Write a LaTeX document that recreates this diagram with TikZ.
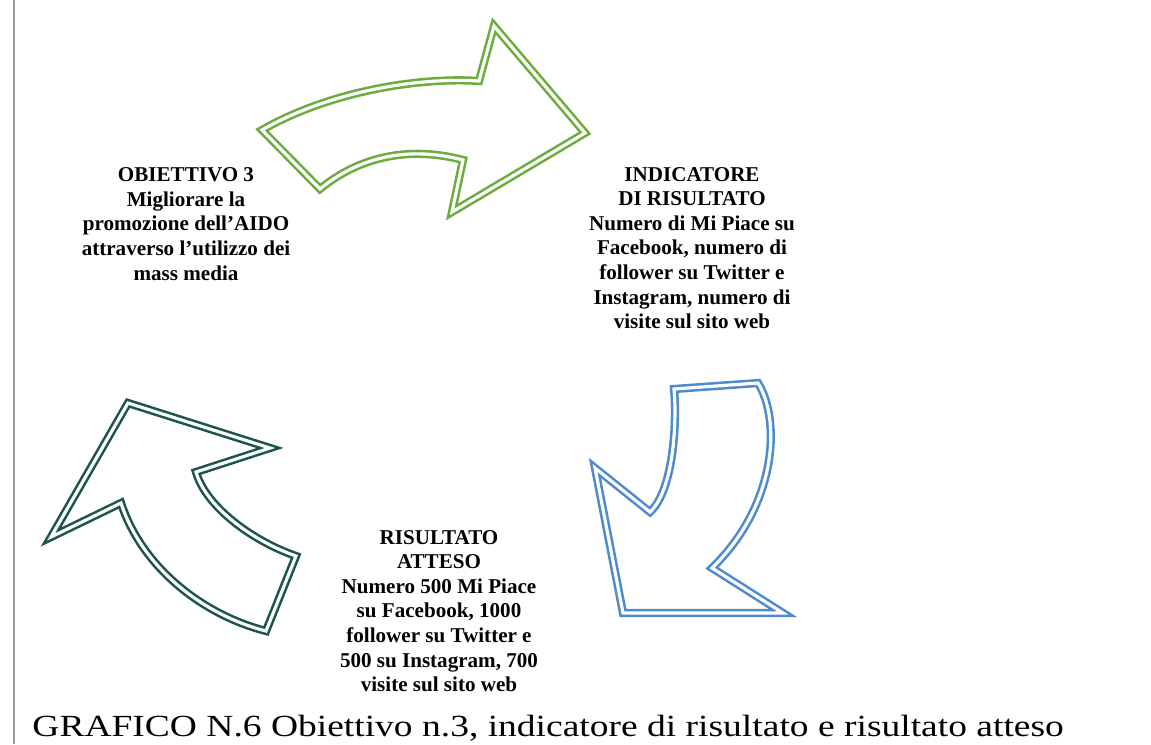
\documentclass[tikz,border=0pt]{standalone}
\usepackage{fontspec}
\setmainfont{Liberation Serif}
\usepackage{xcolor}
\definecolor{arrowgreen}{RGB}{108,172,62}
\definecolor{arrowblue}{RGB}{78,138,205}
\definecolor{arrowteal}{RGB}{28,84,78}
\tikzset{
  cyclearrow/.style={line width=1.45pt, double=white, double distance=1.8pt, line join=miter},
  steplabel/.style={align=center, font=\fontsize{12}{14}\selectfont\bfseries},
}

\begin{document}
\begin{tikzpicture}[x=0.02cm, y=-0.02cm]
      \useasboundingbox (0,0) rectangle (1151,744);

      \draw[gray!80, line width=1.1pt] (14,0) -- (14,744);

      \draw[cyclearrow, arrowgreen] (262,130) .. controls (330,91) and (420,77) .. (479,81)
        -- (494,26) -- (585,133) -- (452,212) -- (463,160)
        .. controls (410,146) and (360,156) .. (320,189) -- cycle;

      \draw[cyclearrow, arrowblue] (674,389) -- (758,383)
        .. controls (781,420) and (777,505) .. (712,568)
        -- (783,613) -- (623,613) -- (595,468) -- (650,512)
        .. controls (674,490) and (677,420) .. cycle;

      \draw[cyclearrow, arrowteal] (128,403) -- (270,448) -- (196,472)
        .. controls (205,505) and (250,540) .. (296,556)
        -- (266,631)
        .. controls (200,614) and (141,565) .. (121,503)
        -- (51,537) -- cycle;

      \node[steplabel] (obj) at (186,224) {OBIETTIVO 3\\Migliorare la\\promozione dell’AIDO\\attraverso l’utilizzo dei\\mass media};
      \node[steplabel] (ind) at (692,248) {INDICATORE\\DI RISULTATO\\Numero di Mi Piace su\\Facebook, numero di\\follower su Twitter e\\Instagram, numero di\\visite sul sito web};
      \node[steplabel] (ris) at (439,611) {RISULTATO\\ATTESO\\Numero 500 Mi Piace\\su Facebook, 1000\\follower su Twitter e\\500 su Instagram, 700\\visite sul sito web};

      \node[anchor=base west, inner sep=0pt, xscale=1.22, font=\fontsize{17.5}{19}\selectfont] (cap) at (32,736) {GRAFICO N.6 Obiettivo n.3, indicatore di risultato e risultato atteso};
    \end{tikzpicture}
\end{document}
